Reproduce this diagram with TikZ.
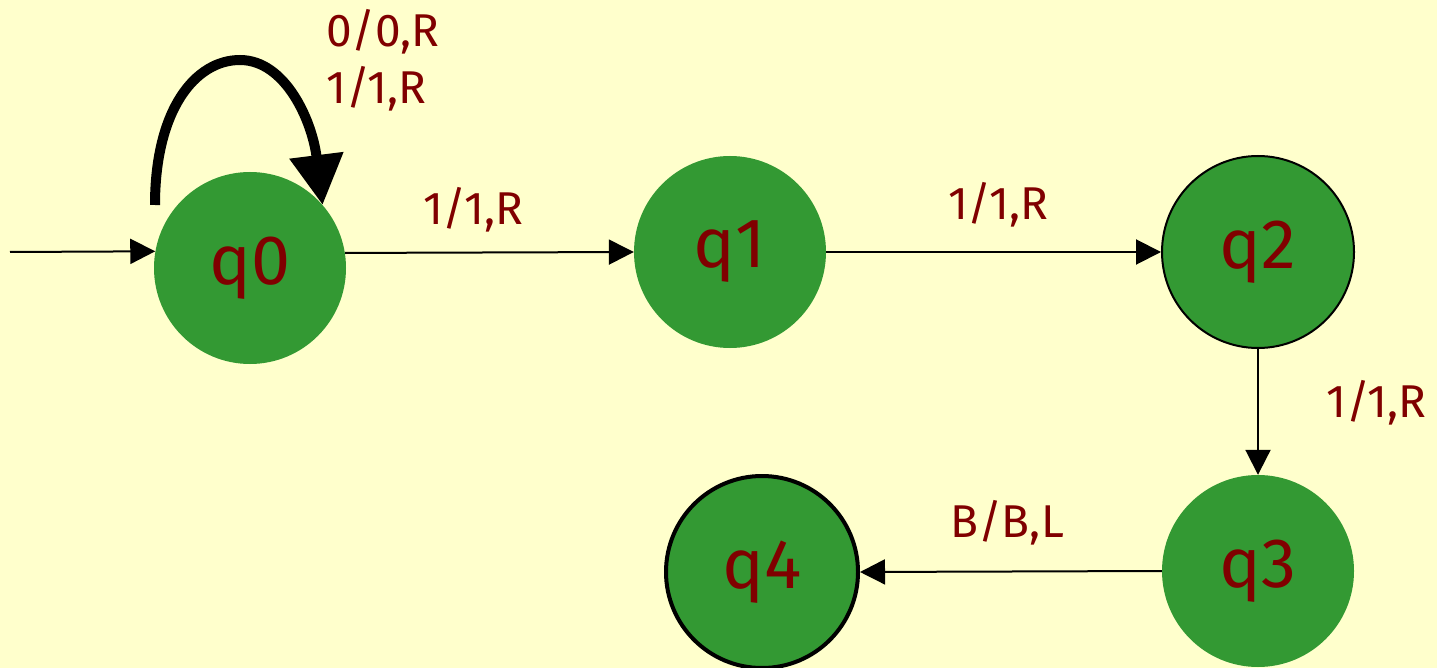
\documentclass[tikz,border=0pt]{standalone}
\usepackage{fontspec}
\setmainfont{Fira Sans}
\usetikzlibrary{arrows.meta}
\definecolor{bg}{HTML}{FFFFCC}
\definecolor{stgreen}{HTML}{339933}
\definecolor{lbl}{HTML}{800000}
\begin{document}
\begin{tikzpicture}[x=1pt,y=-1pt,
  state/.style={circle,fill=stgreen,minimum size=192pt,inner sep=0pt,text=lbl,font=\fontsize{70}{72}\selectfont},
  lab/.style={text=lbl,font=\fontsize{46}{57}\selectfont,inner sep=0pt},
  trans/.style={line width=2pt,-{Triangle[length=25pt,width=25pt]}}]
\fill[bg] (0,0) rectangle (1437,668);
\useasboundingbox (0,0) rectangle (1437,668);
\node[state] (q0) at (250,268) {q0};
\node[state] (q1) at (730,252) {q1};
\node[state,draw=black,line width=2pt] (q2) at (1258,252) {q2};
\node[state] (q3) at (1258,571) {q3};
\node[state,draw=black,line width=4pt] (q4) at (762,572) {q4};
\coordinate (start) at (10,252);
\coordinate (loopstart) at (155,205);
\draw[trans] (start) -- (q0.170.4);
\draw[trans] (q0.9.6) -- (q1.west);
\draw[trans] (q1.east) -- (q2.west);
\draw[trans] (q2.south) -- (q3.north);
\draw[trans] (q3.west) -- (q4.east);
\draw[line width=10pt,-{Triangle[length=50pt,width=52pt]}] (loopstart) .. controls (155,110) and (195,60) .. (240,60) .. controls (285,60) and (312,120) .. (q0.41);
\node[lab,anchor=west,align=left] (l0) at (326,60) {0/0,R\\1/1,R};
\node[lab] (l1) at (473,210) {1/1,R};
\node[lab] (l2) at (998,205) {1/1,R};
\node[lab] (l3) at (1376,403) {1/1,R};
\node[lab] (l4) at (1007,523) {B/B,L};
\end{tikzpicture}
\end{document}
